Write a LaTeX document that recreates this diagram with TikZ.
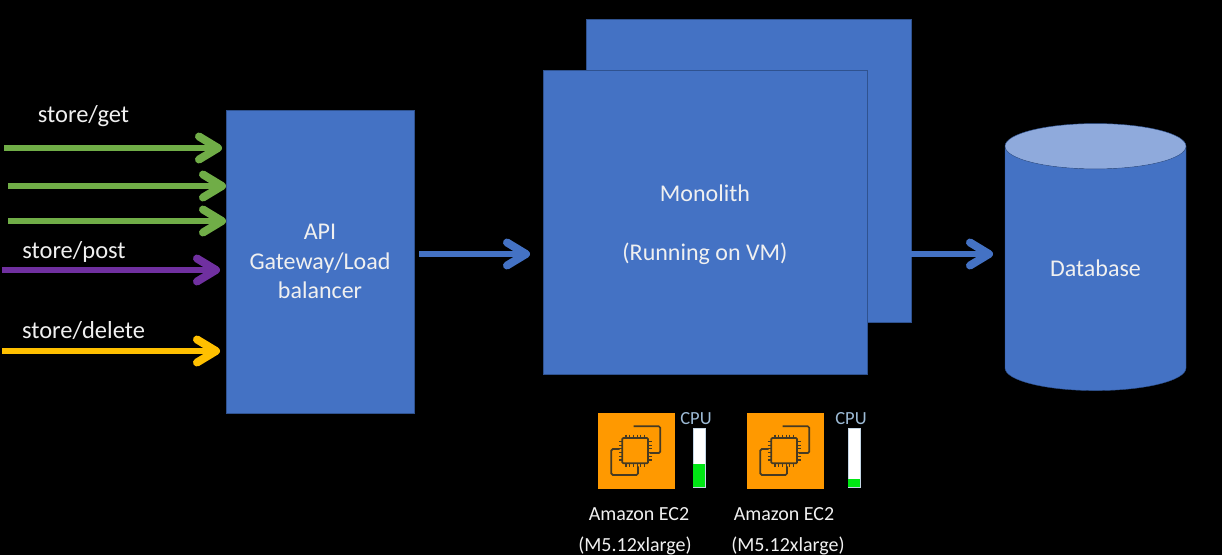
\documentclass[tikz,border=0pt]{standalone}
\usepackage{fontspec}
\setmainfont{Carlito}
\usepackage{xcolor}
\usepackage{tikz}
\usetikzlibrary{arrows.meta,positioning,shapes.geometric}
\definecolor{BoxBlue}{RGB}{68,114,196}
\definecolor{EdgeBlue}{RGB}{47,82,143}
\definecolor{LidBlue}{RGB}{143,170,220}
\definecolor{ArrowGreen}{RGB}{112,173,71}
\definecolor{ArrowPurple}{RGB}{112,48,160}
\definecolor{ArrowYellow}{RGB}{255,192,0}
\definecolor{ChipOrange}{RGB}{255,153,0}
\definecolor{ChipLine}{RGB}{70,58,35}
\definecolor{CpuText}{RGB}{157,187,214}
\definecolor{CpuGreen}{RGB}{0,230,20}
\definecolor{SoftWhite}{RGB}{240,240,240}

\tikzset{
    bluebox/.style={draw=EdgeBlue, fill=BoxBlue, rectangle, outer sep=0pt, inner sep=0pt, text=SoftWhite, align=center, font=\fontsize{24}{29.5}\selectfont},
    flowarrow/.style={line width=6pt, -{Straight Barb[round, length=19pt, width=23pt, line width=8pt]}},
    routelabel/.style={text=SoftWhite, font=\fontsize{24.5}{28}\selectfont},
    ecbox/.style={fill=ChipOrange, minimum width=77pt, minimum height=76pt, outer sep=0pt, inner sep=0pt},
    cpubar/.style={draw=CpuText!60, fill=white, minimum width=12pt, minimum height=59pt, outer sep=0pt, inner sep=0pt},
    cpulevel/.style={fill=CpuGreen, minimum width=12pt, outer sep=0pt, inner sep=0pt, anchor=south},
    cpulabel/.style={text=CpuText, font=\fontsize{18.5}{20}\selectfont},
    eclabel/.style={text=SoftWhite, font=\fontsize{20}{24}\selectfont},
    chipicon/.pic={
        \draw [ChipLine, line width=1.7pt, rounded corners=1.5pt] (-2.8,-24.7) -- (23.8,-24.7) -- (23.8,2) -- (13.2,2);
        \draw [ChipLine, line width=1.7pt, rounded corners=1.5pt] (-16.8,-2) -- (-25.2,-2) -- (-25.2,24) -- (1.5,24) -- (1.5,15.3);
        \draw [ChipLine, line width=1.7pt, rounded corners=1pt] (-14.2,-13) rectangle (11.5,12.3);
        \foreach \p in {-10.5,-6.8,-3.1,0.6,4.3,8} {
            \draw [ChipLine, line width=1.1pt] (\p,-16.5) -- (\p,-13);
            \draw [ChipLine, line width=1.1pt] (\p,12.3) -- (\p,15.8);
        }
        \foreach \p in {-9.5,-5.8,-2.1,1.6,5.3,9} {
            \draw [ChipLine, line width=1.1pt] (-17.7,\p) -- (-14.2,\p);
            \draw [ChipLine, line width=1.1pt] (11.5,\p) -- (15,\p);
        }
    }
}

\begin{document}
\begin{tikzpicture}[x=1pt, y=-1pt]
    \fill [black] (0,0) rectangle (1222,555);
    \useasboundingbox (0,0) rectangle (1222,555);

    \node [bluebox, minimum width=188pt, minimum height=303pt] (api) at (320,261.5) {API\\Gateway/Load\\balancer};
    \node [bluebox, minimum width=325pt, minimum height=303pt, right=172pt of api, yshift=91pt] (monolithback) {};
    \node [bluebox, minimum width=324pt, minimum height=304pt] (monolith) at ([xshift=-43.5pt,yshift=-51.5pt]monolithback.center) {\rule{0pt}{23pt}Monolith\\ \\(Running on VM)};
    \node [cylinder, shape border rotate=90, aspect=0.5, draw=EdgeBlue, cylinder uses custom fill, cylinder body fill=BoxBlue, cylinder end fill=LidBlue, minimum width=181pt, minimum height=267pt, outer sep=0pt, inner sep=0pt, text=SoftWhite, font=\fontsize{24}{29.5}\selectfont] (database) at (1095.5,268.5) {Database};

    \node [routelabel] (getlabel) at (83.5,116) {store/get};
    \node [routelabel] (postlabel) at (74,252) {store/post};
    \node [routelabel] (deletelabel) at (83.5,331) {store/delete};

    \coordinate (getone) at (4,148);
    \coordinate (gettwo) at (8,186);
    \coordinate (getthree) at (8,221);
    \coordinate (poststart) at (2,270);
    \coordinate (deletestart) at (2,351);
    \coordinate (apiout) at (419,254);
    \coordinate (monolithout) at (911,254);

    \draw [flowarrow, ArrowGreen, shorten >=4pt] (getone) -- (getone -| api.west);
    \draw [flowarrow, ArrowGreen] (gettwo) -- (gettwo -| api.west);
    \draw [flowarrow, ArrowGreen] (getthree) -- (getthree -| api.west);
    \draw [flowarrow, ArrowPurple, shorten >=6pt] (poststart) -- (poststart -| api.west);
    \draw [flowarrow, ArrowYellow, shorten >=6pt] (deletestart) -- (deletestart -| api.west);
    \draw [flowarrow, BoxBlue, shorten >=13pt] (apiout) -- (apiout -| monolith.west);
    \draw [flowarrow, BoxBlue, shorten >=12pt] (monolithout) -- (monolithout -| database.west);

    \node [ecbox] (econe) at (636.5,451) {};
    \node [ecbox] (ectwo) at (785.5,451) {};
    \pic at (econe) {chipicon};
    \pic at (ectwo) {chipicon};

    \node [cpubar] (barone) at (699,457.5) {};
    \node [cpubar] (bartwo) at (854,457.5) {};
    \node [cpulevel, minimum height=23pt] at (barone.south) {};
    \node [cpulevel, minimum height=8pt] at (bartwo.south) {};
    \node [cpulabel] (cpuone) at (696,419) {CPU};
    \node [cpulabel] (cputwo) at (851,419) {CPU};

    \node [eclabel] (ecnameone) at (639,514) {Amazon EC2};
    \node [eclabel] (ecnametwo) at (784,514) {Amazon EC2};
    \node [eclabel] (ectypeone) at (635,546) {(M5.12xlarge)};
    \node [eclabel] (ectypetwo) at (788,546) {(M5.12xlarge)};
\end{tikzpicture}
\end{document}
